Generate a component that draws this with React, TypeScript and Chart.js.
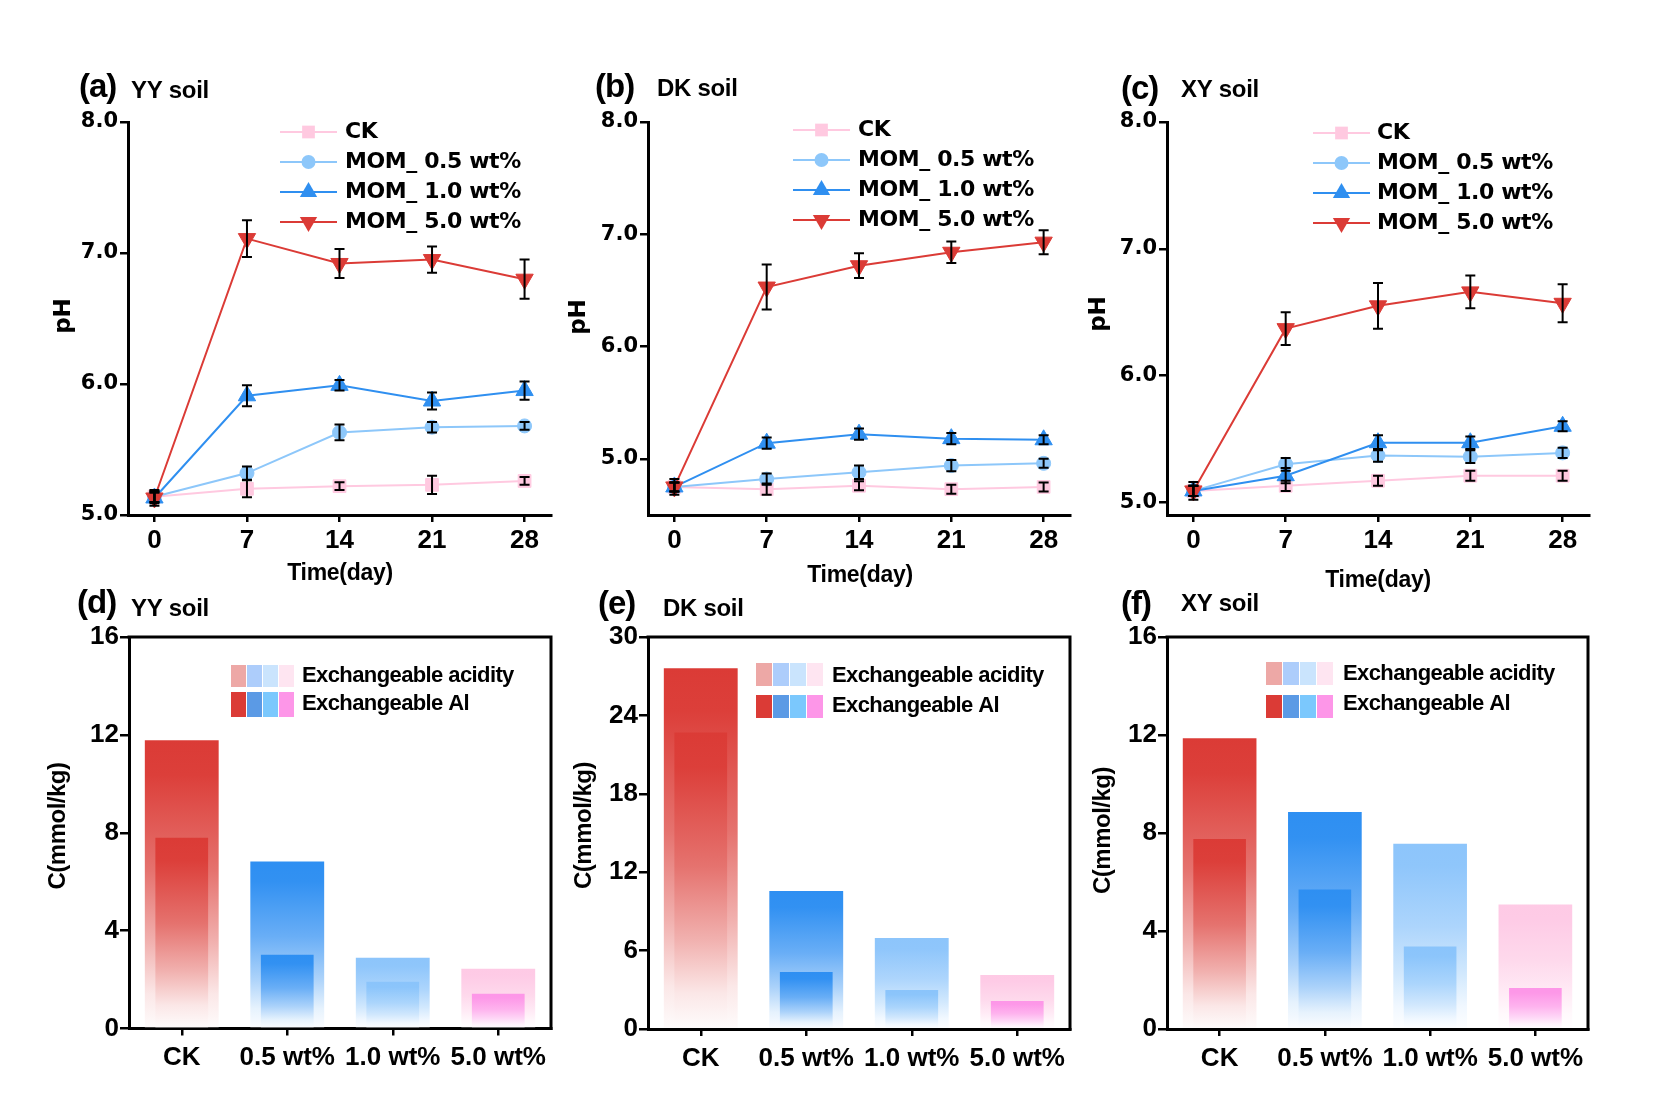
import React, { useEffect, useRef } from 'react';
import { Chart, registerables } from 'chart.js';

Chart.register(...registerables);

const PAGE_W = 1661;
const PAGE_H = 1113;

// ---------------- data: soil pH over time ----------------
const days = [0, 7, 14, 21, 28];
const dayTicks = [0, 7, 14, 21, 28];
const phTicks = [5, 6, 7, 8];
const seriesLabels = ['CK', 'MOM_ 0.5 wt%', 'MOM_ 1.0 wt%', 'MOM_ 5.0 wt%'];

const yyCK = [5.14, 5.2, 5.22, 5.23, 5.26];
const yy05 = [5.14, 5.32, 5.63, 5.67, 5.68];
const yy10 = [5.13, 5.91, 5.99, 5.87, 5.95];
const yy50 = [5.13, 7.11, 6.92, 6.95, 6.8];
const yyCKErr = [0.04, 0.065, 0.03, 0.07, 0.03];
const yy05Err = [0.04, 0.05, 0.06, 0.04, 0.03];
const yy10Err = [0.04, 0.08, 0.04, 0.065, 0.07];
const yy50Err = [0.06, 0.14, 0.11, 0.1, 0.15];

const dkCK = [4.75, 4.73, 4.76, 4.73, 4.75];
const dk05 = [4.75, 4.82, 4.88, 4.94, 4.96];
const dk10 = [4.75, 5.14, 5.22, 5.18, 5.17];
const dk50 = [4.75, 6.53, 6.72, 6.84, 6.93];
const dkCKErr = [0.04, 0.05, 0.04, 0.04, 0.04];
const dk05Err = [0.04, 0.05, 0.06, 0.05, 0.04];
const dk10Err = [0.04, 0.05, 0.05, 0.05, 0.04];
const dk50Err = [0.07, 0.2, 0.11, 0.095, 0.107];

const xyCK = [5.09, 5.13, 5.17, 5.21, 5.21];
const xy05 = [5.09, 5.3, 5.37, 5.36, 5.39];
const xy10 = [5.09, 5.21, 5.47, 5.47, 5.6];
const xy50 = [5.09, 6.37, 6.55, 6.66, 6.57];
const xyCKErr = [0.04, 0.04, 0.04, 0.04, 0.04];
const xy05Err = [0.04, 0.05, 0.05, 0.05, 0.04];
const xy10Err = [0.04, 0.06, 0.06, 0.05, 0.04];
const xy50Err = [0.07, 0.13, 0.18, 0.13, 0.15];

// ---------------- data: exchangeable acidity / Al ----------------
const barCategories = ['CK', '0.5 wt%', '1.0 wt%', '5.0 wt%'];
const barLegendLabels = ['Exchangeable acidity', 'Exchangeable Al'];
const yyAcidity = [11.78, 6.83, 2.89, 2.44];
const yyAl = [7.8, 3.01, 1.91, 1.42];
const dkAcidity = [27.6, 10.57, 6.97, 4.14];
const dkAl = [22.7, 4.37, 2.99, 2.15];
const xyAcidity = [11.87, 8.86, 7.56, 5.08];
const xyAl = [7.76, 5.69, 3.37, 1.67];
const ticks16 = [0, 4, 8, 12, 16];
const ticks30 = [0, 6, 12, 18, 24, 30];

// ---------------- texts ----------------
const X_TITLE_LINE = 'Time(day)';
const Y_TITLE_LINE = 'pH';
const Y_TITLE_BAR = 'C(mmol/kg)';

// ---------------- styles ----------------
const ARIAL = '"Liberation Sans", Arial, sans-serif';
const DEJAVU = '"DejaVu Sans", sans-serif';
const lineColors = ['#FFC9E0', '#8DC7FA', '#2F8FF0', '#DB3B36'];
const pointStyles = ['rect', 'circle', 'triangle', 'triangle'];
const pointRotations = [0, 0, 0, 180];
const pointRadii = [9, 7, 10, 10];
const acidBarColors = ['#DB3B36', '#2E8FF2', '#8DC5FB', '#FECAE5'];
const alBarColors = ['#DB3B36', '#2E8FF2', '#8AC4FB', '#FD96E8'];
const acidLegendColors = ['#EDA8A6', '#ADCDFB', '#CAE4FD', '#FEE5F1'];
const alLegendColors = ['#DB3B36', '#5B9AE5', '#7BC8FD', '#FD96E8'];
const fadeStops: [number, number][] = [
  [0, 0],
  [0.12, 0.02],
  [0.45, 0.28],
  [0.7, 0.6],
  [0.88, 0.88],
  [1, 0.985],
];
const Y_AXIS_W = 80;
const X_AXIS_H = 60;

function mixWhite(hex: string, t: number) {
  const n = parseInt(hex.slice(1), 16);
  const r = (n >> 16) & 255, g = (n >> 8) & 255, b = n & 255;
  const m = (c: number) => Math.round(c + (255 - c) * t);
  return `rgb(${m(r)},${m(g)},${m(b)})`;
}

function drawText(ctx: CanvasRenderingContext2D, str: string, x: number, y: number, font: string, o: any = {}) {
  ctx.save();
  ctx.font = font;
  ctx.fillStyle = '#000';
  ctx.textAlign = o.align || 'left';
  ctx.textBaseline = o.baseline || 'alphabetic';
  (ctx as any).letterSpacing = (o.spacing || 0) + 'px';
  ctx.translate(x, y);
  if (o.rotate) ctx.rotate(o.rotate);
  ctx.fillText(str, 0, 0);
  ctx.restore();
}

function drawMarker(ctx: CanvasRenderingContext2D, i: number, x: number, y: number) {
  const r = pointRadii[i];
  ctx.save();
  ctx.fillStyle = lineColors[i];
  ctx.beginPath();
  if (pointStyles[i] === 'rect') {
    const s = r * Math.SQRT1_2;
    ctx.rect(x - s, y - s, 2 * s, 2 * s);
  } else if (pointStyles[i] === 'circle') {
    ctx.arc(x, y, r, 0, Math.PI * 2);
  } else {
    const dir = pointRotations[i] === 180 ? -1 : 1;
    ctx.moveTo(x, y - dir * r);
    ctx.lineTo(x + r * 0.866, y + dir * r * 0.5);
    ctx.lineTo(x - r * 0.866, y + dir * r * 0.5);
    ctx.closePath();
  }
  ctx.fill();
  ctx.restore();
}

function paddingFor(area: any) {
  return {
    left: area.left - Y_AXIS_W,
    right: PAGE_W - area.right,
    top: area.top,
    bottom: PAGE_H - area.bottom - X_AXIS_H,
  };
}

// ---------------- panel definitions ----------------
const linePanels = [
  {
    tag: '(a)', soil: 'YY soil', yMin: 5.0,
    values: [yyCK, yy05, yy10, yy50], errors: [yyCKErr, yy05Err, yy10Err, yy50Err],
    area: { left: 128, right: 551, top: 122, bottom: 515 },
    tagPos: [79, 97], soilPos: [131, 97.5], yTitle: [69.5, 316], xTitle: [340, 580],
    legend: { lineX: 280, textX: 345, rows: [132, 162, 192, 222] },
  },
  {
    tag: '(b)', soil: 'DK soil', yMin: 4.5,
    values: [dkCK, dk05, dk10, dk50], errors: [dkCKErr, dk05Err, dk10Err, dk50Err],
    area: { left: 648, right: 1070, top: 122, bottom: 515 },
    tagPos: [595, 96.5], soilPos: [657, 96], yTitle: [585, 317], xTitle: [860, 582],
    legend: { lineX: 793, textX: 858, rows: [130, 160, 190, 220] },
  },
  {
    tag: '(c)', soil: 'XY soil', yMin: 4.9,
    values: [xyCK, xy05, xy10, xy50], errors: [xyCKErr, xy05Err, xy10Err, xy50Err],
    area: { left: 1167, right: 1589, top: 122, bottom: 515 },
    tagPos: [1121, 98.5], soilPos: [1181, 96.5], yTitle: [1104.5, 314], xTitle: [1378, 587],
    legend: { lineX: 1313, textX: 1377, rows: [133, 163, 193, 223] },
  },
];

const barPanels = [
  {
    tag: '(d)', soil: 'YY soil', yMax: 16, ticks: ticks16,
    acidity: yyAcidity, al: yyAl,
    area: { left: 129, right: 551, top: 637, bottom: 1028.5 },
    tagPos: [77, 613], soilPos: [131, 615.5], yTitle: [65, 826],
    legend: { sqX: [231, 247, 263, 279], sqW: 15, rows: [[665, 22], [692, 25]], textX: 302, textY: [676, 704] },
  },
  {
    tag: '(e)', soil: 'DK soil', yMax: 30, ticks: ticks30,
    acidity: dkAcidity, al: dkAl,
    area: { left: 648, right: 1070, top: 637, bottom: 1029 },
    tagPos: [598, 613.5], soilPos: [663, 615.5], yTitle: [591, 825.5],
    legend: { sqX: [756, 773, 790, 807], sqW: 16, rows: [[663, 23], [695, 23]], textX: 832, textY: [676, 706] },
  },
  {
    tag: '(f)', soil: 'XY soil', yMax: 16, ticks: ticks16,
    acidity: xyAcidity, al: xyAl,
    area: { left: 1167, right: 1588, top: 637, bottom: 1029 },
    tagPos: [1121, 613.5], soilPos: [1181, 610.5], yTitle: [1110, 830.5],
    legend: { sqX: [1266, 1283, 1300, 1317], sqW: 16, rows: [[662, 23], [695, 23]], textX: 1343, textY: [674, 704] },
  },
];

function drawPanelTag(ctx: CanvasRenderingContext2D, p: any) {
  drawText(ctx, p.tag, p.tagPos[0], p.tagPos[1], `bold 33px ${ARIAL}`, { spacing: -1 });
  drawText(ctx, p.soil, p.soilPos[0], p.soilPos[1], `bold 24px ${ARIAL}`, { spacing: -0.3 });
}

function axisCommon(tickLength: number) {
  return {
    grid: { display: true, drawOnChartArea: false, drawTicks: true, tickLength, color: '#000', lineWidth: 2.5 },
    border: { display: true, color: '#000', width: 3 },
  };
}

function lineConfig(p: any): any {
  const decor = {
    id: 'decor',
    afterDatasetsDraw(chart: any) {
      const ctx = chart.ctx;
      const xs = chart.scales.x;
      const ys = chart.scales.y;
      ctx.save();
      ctx.strokeStyle = '#000';
      ctx.lineWidth = 2;
      chart.data.datasets.forEach((ds: any) => {
        ds.data.forEach((pt: any, k: number) => {
          const e = ds.errors[k];
          const x = xs.getPixelForValue(pt.x);
          const y1 = ys.getPixelForValue(pt.y + e);
          const y2 = ys.getPixelForValue(pt.y - e);
          ctx.beginPath();
          ctx.moveTo(x, y1);
          ctx.lineTo(x, y2);
          ctx.moveTo(x - 5, y1);
          ctx.lineTo(x + 5, y1);
          ctx.moveTo(x - 5, y2);
          ctx.lineTo(x + 5, y2);
          ctx.stroke();
        });
      });
      ctx.restore();
    },
    afterDraw(chart: any) {
      const ctx = chart.ctx;
      drawPanelTag(ctx, p);
      drawText(ctx, Y_TITLE_LINE, p.yTitle[0], p.yTitle[1], `bold 23px ${DEJAVU}`, { align: 'center', rotate: -Math.PI / 2 });
      drawText(ctx, X_TITLE_LINE, p.xTitle[0], p.xTitle[1], `bold 23px ${ARIAL}`, { align: 'center', spacing: -0.3 });
      const L = p.legend;
      seriesLabels.forEach((label, i) => {
        const y = L.rows[i];
        ctx.save();
        ctx.strokeStyle = lineColors[i];
        ctx.lineWidth = 2;
        ctx.beginPath();
        ctx.moveTo(L.lineX, y);
        ctx.lineTo(L.lineX + 57, y);
        ctx.stroke();
        ctx.restore();
        drawMarker(ctx, i, L.lineX + 28.5, y);
        drawText(ctx, label, L.textX, y, `bold 22px ${DEJAVU}`, { baseline: 'middle', spacing: -0.4 });
      });
    },
  };
  return {
    type: 'line',
    data: {
      datasets: p.values.map((vals: number[], i: number) => ({
        label: seriesLabels[i],
        data: days.map((d, k) => ({ x: d, y: vals[k] })),
        errors: p.errors[i],
        borderColor: lineColors[i],
        backgroundColor: lineColors[i],
        pointBackgroundColor: lineColors[i],
        pointBorderColor: lineColors[i],
        borderWidth: 2,
        pointStyle: pointStyles[i],
        pointRotation: pointRotations[i],
        pointRadius: pointRadii[i],
        pointBorderWidth: 1,
        tension: 0,
        fill: false,
        order: seriesLabels.length - 1 - i,
        clip: false,
      })),
    },
    options: {
      responsive: false,
      animation: false,
      events: [],
      layout: { padding: paddingFor(p.area) },
      plugins: { legend: { display: false }, tooltip: { enabled: false } },
      scales: {
        x: {
          type: 'linear', min: -2, max: 30,
          afterBuildTicks: (s: any) => { s.ticks = dayTicks.map((v) => ({ value: v })); },
          afterFit: (s: any) => { s.height = X_AXIS_H; },
          ticks: { color: '#000', padding: 3, maxRotation: 0, autoSkip: false, font: { family: ARIAL, size: 26, weight: 'bold' }, callback: (v: any) => String(v) },
          ...axisCommon(7),
        },
        y: {
          min: p.yMin, max: 8,
          afterBuildTicks: (s: any) => { s.ticks = phTicks.map((v) => ({ value: v })); },
          afterFit: (s: any) => { s.width = Y_AXIS_W; },
          ticks: { color: '#000', padding: 2, autoSkip: false, font: { family: DEJAVU, size: 21, weight: 'bold' }, callback: (v: any) => Number(v).toFixed(1) },
          ...axisCommon(8),
        },
      },
    },
    plugins: [decor],
  };
}

function barFill(colors: string[]) {
  return (c: any) => {
    const i = c.dataIndex;
    if (i == null) return colors[0];
    const chart = c.chart;
    const ys = chart.scales && chart.scales.y;
    if (!chart.chartArea || !ys || c.raw == null) return colors[i];
    const top = ys.getPixelForValue(c.raw);
    const bottom = ys.getPixelForValue(0);
    const g = chart.ctx.createLinearGradient(0, top, 0, bottom);
    fadeStops.forEach(([pos, t]) => g.addColorStop(pos, mixWhite(colors[i], t)));
    return g;
  };
}

function barConfig(p: any): any {
  const decor = {
    id: 'decor',
    afterDraw(chart: any) {
      const ctx = chart.ctx;
      const a = chart.chartArea;
      ctx.save();
      ctx.strokeStyle = '#000';
      ctx.lineWidth = 3;
      ctx.beginPath();
      ctx.moveTo(a.left - 1.5, a.top);
      ctx.lineTo(a.right, a.top);
      ctx.lineTo(a.right, a.bottom + 1.5);
      ctx.stroke();
      ctx.restore();
      drawPanelTag(ctx, p);
      drawText(ctx, Y_TITLE_BAR, p.yTitle[0], p.yTitle[1], `bold 24px ${ARIAL}`, { align: 'center', rotate: -Math.PI / 2, spacing: -0.5 });
      const L = p.legend;
      const rowsColors = [acidLegendColors, alLegendColors];
      rowsColors.forEach((cols, r) => {
        cols.forEach((col, k) => {
          ctx.fillStyle = col;
          ctx.fillRect(L.sqX[k], L.rows[r][0], L.sqW, L.rows[r][1]);
        });
        drawText(ctx, barLegendLabels[r], L.textX, L.textY[r], `bold 22px ${ARIAL}`, { baseline: 'middle', spacing: -0.6 });
      });
    },
  };
  return {
    type: 'bar',
    data: {
      labels: barCategories,
      datasets: [
        {
          label: barLegendLabels[1], data: p.al, backgroundColor: barFill(alBarColors),
          grouped: false, barPercentage: 0.5, categoryPercentage: 1, borderWidth: 0, order: 0,
        },
        {
          label: barLegendLabels[0], data: p.acidity, backgroundColor: barFill(acidBarColors),
          grouped: false, barPercentage: 0.7, categoryPercentage: 1, borderWidth: 0, order: 1,
        },
      ],
    },
    options: {
      responsive: false,
      animation: false,
      events: [],
      layout: { padding: paddingFor(p.area) },
      plugins: { legend: { display: false }, tooltip: { enabled: false } },
      scales: {
        x: {
          type: 'category', offset: true,
          afterFit: (s: any) => { s.height = X_AXIS_H; },
          ticks: { color: '#000', padding: 7, maxRotation: 0, autoSkip: false, font: { family: ARIAL, size: 26, weight: 'bold' } },
          ...axisCommon(7),
          grid: { display: true, offset: false, drawOnChartArea: false, drawTicks: true, tickLength: 7, color: '#000', lineWidth: 2.5 },
        },
        y: {
          min: 0, max: p.yMax,
          afterBuildTicks: (s: any) => { s.ticks = p.ticks.map((v: number) => ({ value: v })); },
          afterFit: (s: any) => { s.width = Y_AXIS_W; },
          ticks: { color: '#000', padding: 1, autoSkip: false, font: { family: ARIAL, size: 26, weight: 'bold' }, callback: (v: any) => String(v) },
          ...axisCommon(9),
        },
      },
    },
    plugins: [decor],
  };
}

function ChartLayer({ make }: { make: () => any }) {
  const ref = useRef<HTMLCanvasElement | null>(null);
  useEffect(() => {
    if (!ref.current) return;
    const chart = new Chart(ref.current, make());
    return () => chart.destroy();
  }, [make]);
  return (
    <canvas
      ref={ref}
      width={PAGE_W}
      height={PAGE_H}
      style={{ position: 'absolute', left: 0, top: 0, width: PAGE_W, height: PAGE_H }}
    />
  );
}

const makers = [
  ...linePanels.map((p) => () => lineConfig(p)),
  ...barPanels.map((p) => () => barConfig(p)),
];

export default function App() {
  return (
    <div style={{ position: 'absolute', left: 0, top: 0, width: PAGE_W, height: PAGE_H, background: '#fff', overflow: 'hidden' }}>
      {makers.map((m, i) => (
        <ChartLayer key={i} make={m} />
      ))}
    </div>
  );
}
